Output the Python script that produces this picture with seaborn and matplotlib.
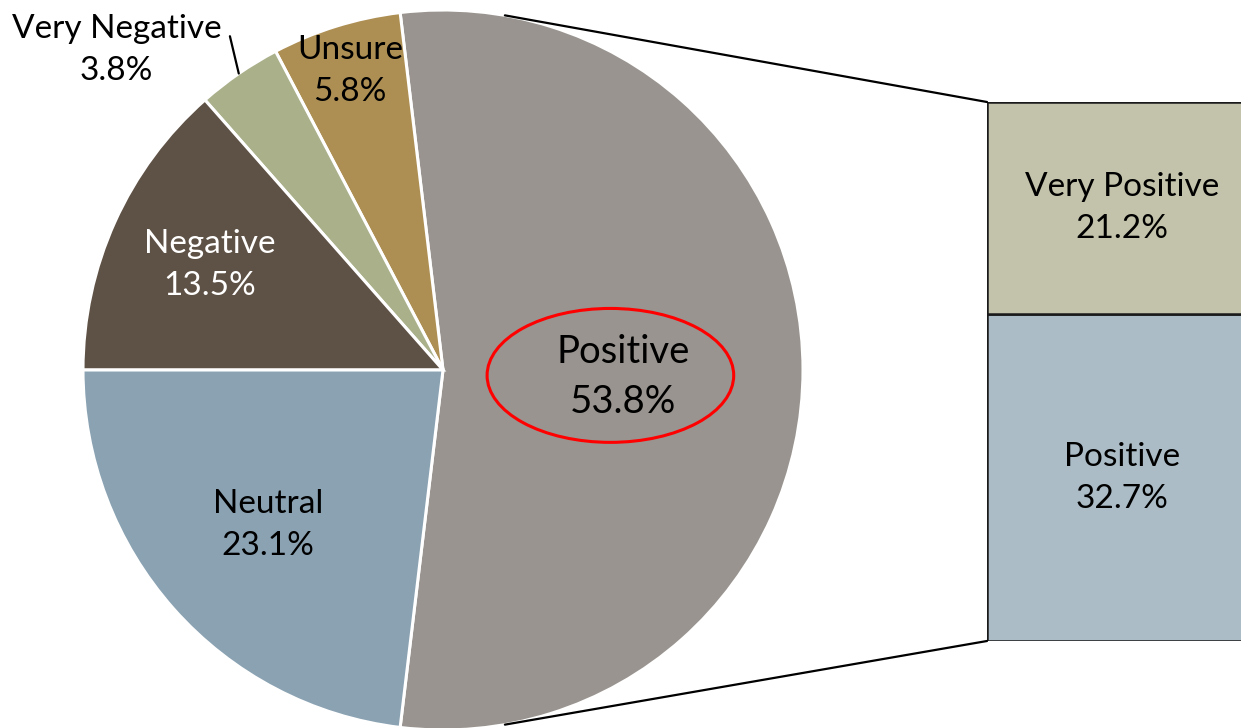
import numpy as np
import matplotlib
matplotlib.use("Agg")
import matplotlib.pyplot as plt
from matplotlib.patches import ConnectionPatch, Ellipse
import seaborn as sns

# pie data (counter-clockwise order starting at the Positive slice)
pie_labels = ["Positive", "Unsure", "Very Negative", "Negative", "Neutral"]
pie_values = [53.8, 5.8, 3.8, 13.5, 23.1]
pie_colors = ["#99948F", "#AD8F53", "#A9B08A", "#5E5145", "#8AA2B2"]

# breakdown of the Positive slice (bottom to top)
bar_labels = ["Positive", "Very Positive"]
bar_values = [32.7, 21.2]
bar_colors = ["#ABBCC7", "#C3C2AA"]

sns.set_theme(style="white")
plt.rcParams["font.family"] = ["Lato", "DejaVu Sans"]

fig = plt.figure(figsize=(12.41, 7.28), dpi=100)
W, H = 1241, 728
FS = 24
LS = 1.5

# pie axes: center (443, 370) px, radius 360 px
ax_pie = fig.add_axes([83 / W, (H - 370 - 360) / H, 720 / W, 720 / H])
start = -pie_values[0] / 100 * 360 / 2
wedges, _ = ax_pie.pie(
    pie_values,
    colors=pie_colors,
    startangle=start,
    counterclock=True,
    radius=1,
    wedgeprops={"edgecolor": "white", "linewidth": 2.2},
)
ax_pie.set_xlim(-1, 1)
ax_pie.set_ylim(-1, 1)
ax_pie.set_aspect("equal")
ax_pie.axis("off")

label_dist = {"Positive": 0.5, "Unsure": 0.87, "Negative": 0.71, "Neutral": 0.65}
text_col = {"Negative": "white"}
for w, name, val in zip(wedges, pie_labels, pie_values):
    mid = np.deg2rad((w.theta1 + w.theta2) / 2)
    txt = f"{name}\n{val:.1f}%"
    if name in label_dist:
        d = label_dist[name]
        x, y = d * np.cos(mid), d * np.sin(mid)
        fs = FS
        if name == "Positive":
            fs = 27.5
            y -= 0.02
            ax_pie.add_patch(Ellipse((x - 0.035, y + 0.005), 0.685, 0.372,
                                     fill=False, edgecolor="#FF0000", lw=2.2))
        ax_pie.text(x, y, txt, ha="center", va="center",
                    fontsize=fs, color=text_col.get(name, "black"), linespacing=LS)
    else:
        # outside label with a short leader line
        ax_pie.plot([np.cos(mid), 1.1 * np.cos(mid - 0.035)],
                    [np.sin(mid), 1.1 * np.sin(mid - 0.035)], color="black", lw=1.6)
        ang = np.deg2rad(135.6)
        ax_pie.text(1.27 * np.cos(ang), 1.27 * np.sin(ang), txt, ha="center", va="center",
                    fontsize=FS, color="black", linespacing=LS)

# stacked bar axes: left edge 987 px, spans y 102..641 px
ax_bar = fig.add_axes([987 / W, (H - 641) / H, 270 / W, 539 / H])
total = sum(bar_values)
bottom = 0
for name, val, col in zip(bar_labels, bar_values, bar_colors):
    ax_bar.bar(0, val, width=1, bottom=bottom, color=col, edgecolor="#1a1a1a", linewidth=1.8)
    ax_bar.text(0, bottom + val / 2, f"{name}\n{val:.1f}%", ha="center", va="center",
                fontsize=FS, color="black", linespacing=LS)
    bottom += val
ax_bar.set_xlim(-0.5, 0.5)
ax_bar.set_ylim(0, total)
ax_bar.axis("off")

# connector lines from the pie to the bar
ang = np.deg2rad(80.1)
for sign, y_bar in [(1, total), (-1, 0)]:
    con = ConnectionPatch(xyA=(-0.5, y_bar), coordsA=ax_bar.transData,
                          xyB=(np.cos(ang), sign * np.sin(ang)), coordsB=ax_pie.transData,
                          color="black", linewidth=1.6)
    fig.add_artist(con)

fig.savefig("out.png", dpi=100, facecolor="white")
